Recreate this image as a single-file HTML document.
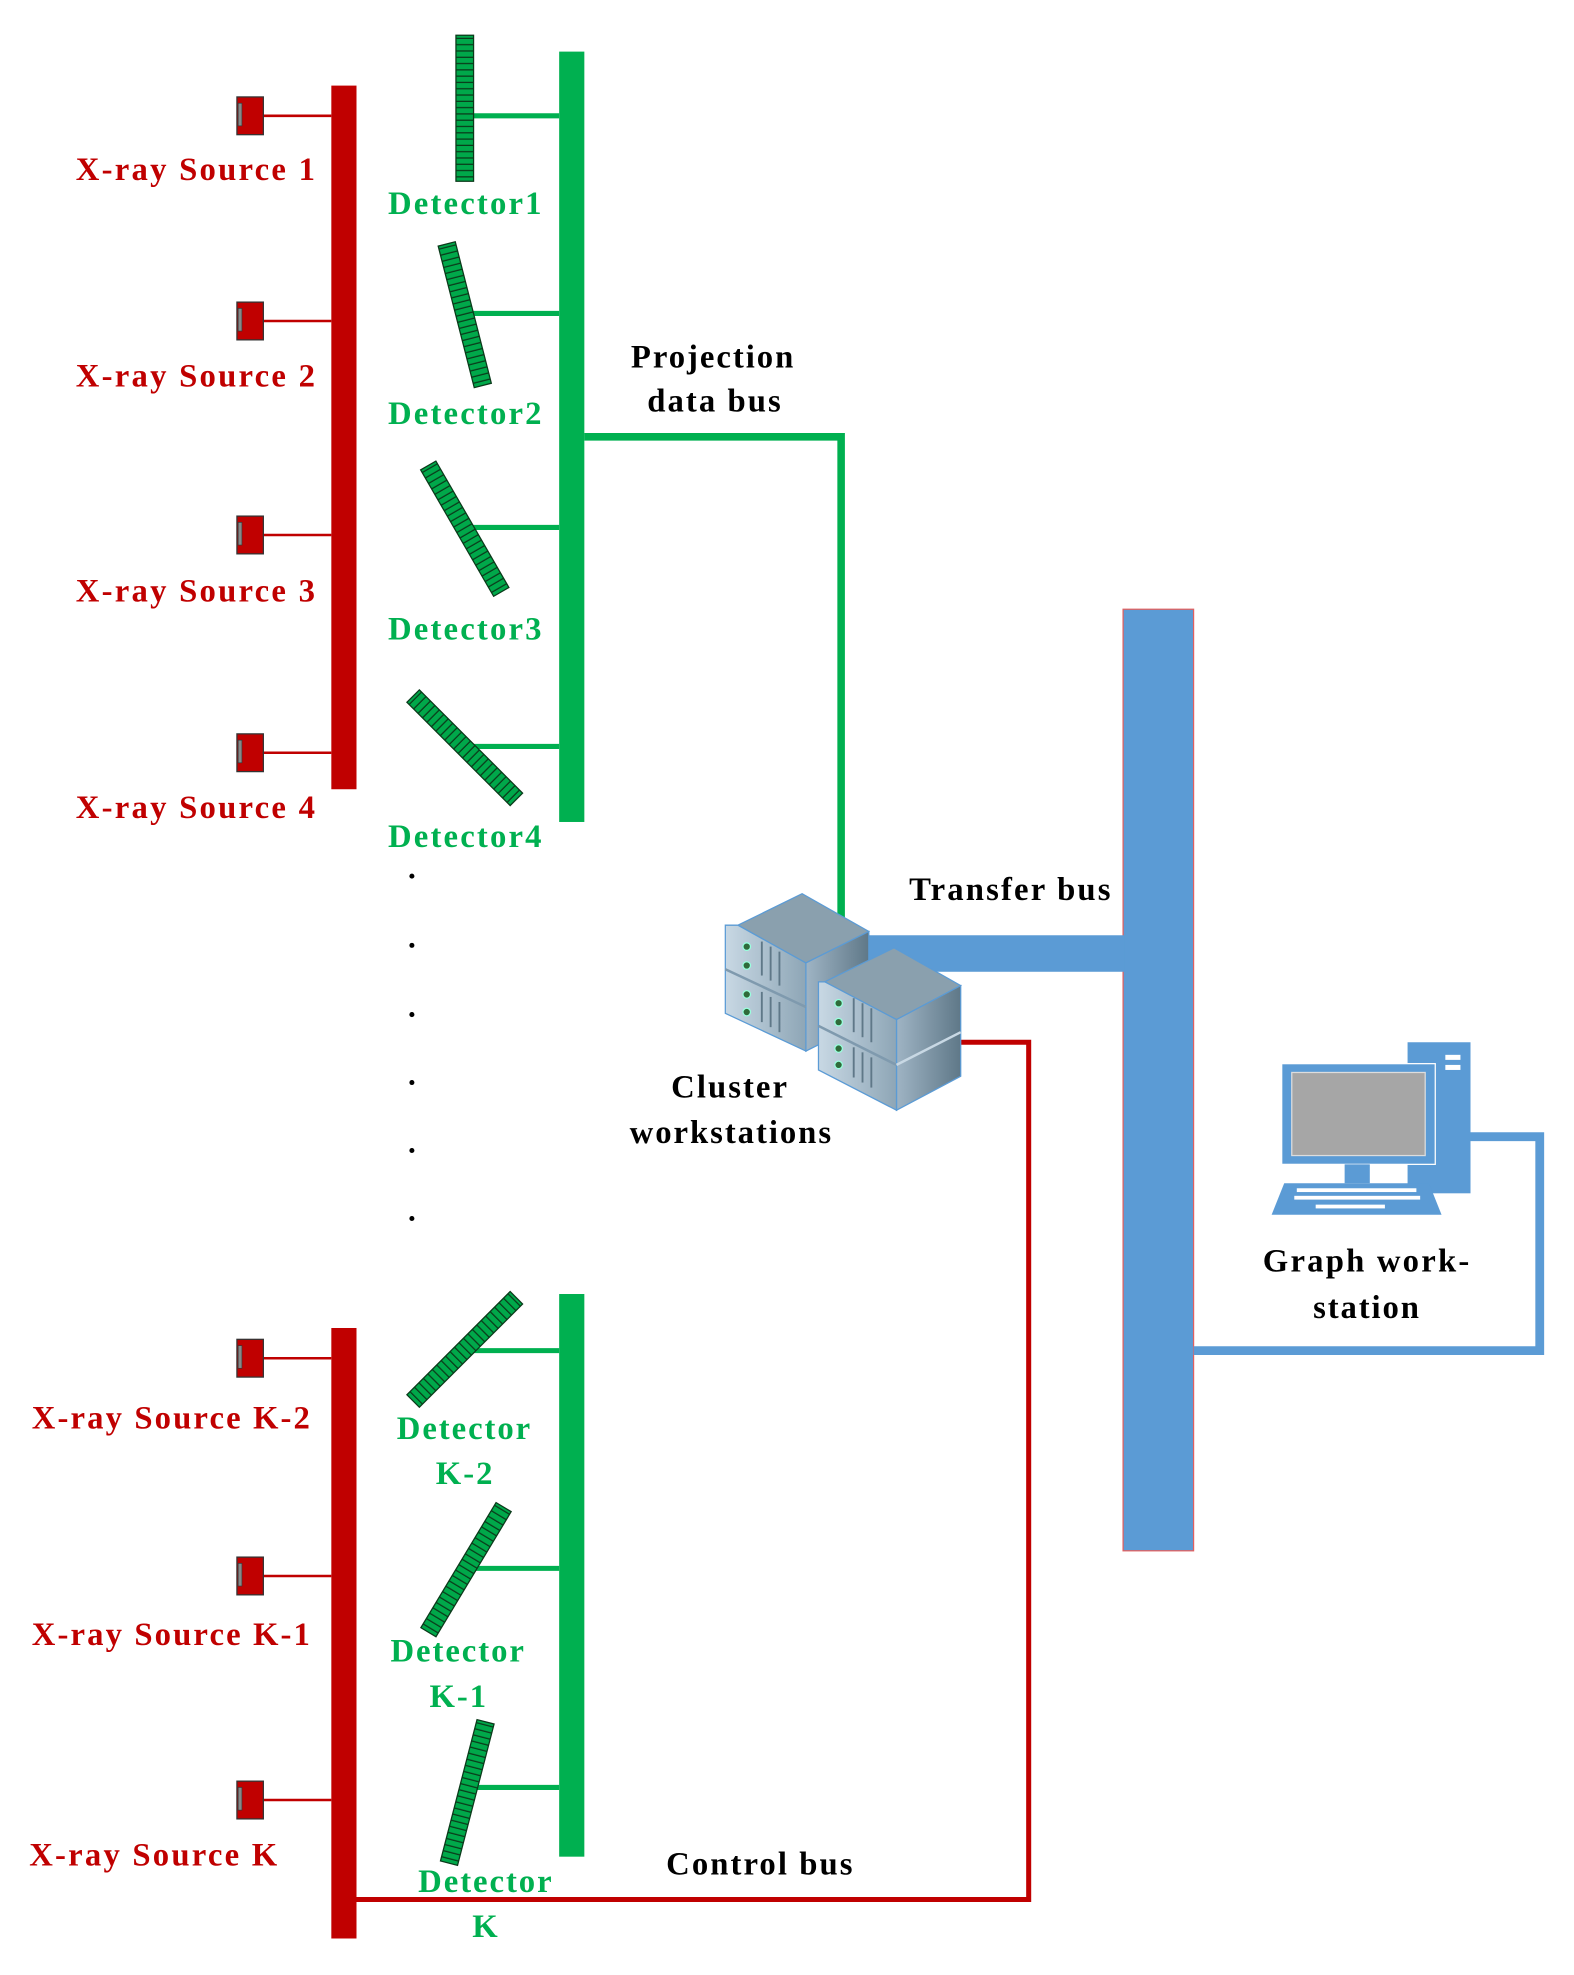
<!DOCTYPE html>
<html><head><meta charset="utf-8"><style>
html,body{margin:0;padding:0;background:#fff}
svg{display:block}
text{font-family:"Liberation Serif",serif;font-weight:bold;font-size:26px}
.r{fill:#c00000}.g{fill:#00b050}.k{fill:#000}
</style></head><body>
<svg width="1574" height="1975" viewBox="0 0 1250 1569" xmlns="http://www.w3.org/2000/svg">
<defs>
<pattern id="st" width="14" height="5" patternUnits="userSpaceOnUse" x="-7" y="0">
<rect width="14" height="5" fill="#00a84a"/><rect y="4" width="14" height="1" fill="#0a3a1a"/>
</pattern>
<linearGradient id="sv" x1="0" y1="0" x2="1" y2="0"><stop offset="0" stop-color="#9fb4c4"/><stop offset="1" stop-color="#5f7888"/></linearGradient>
<linearGradient id="fr" x1="0" y1="0" x2="1" y2="0"><stop offset="0" stop-color="#c8d8e4"/><stop offset="1" stop-color="#8ea6b6"/></linearGradient>
<g id="det"><rect x="-7" y="-58" width="14" height="116" fill="url(#st)" stroke="#0a3a1a" stroke-width="1"/></g>
<g id="src"><rect x="0" y="-15" width="21" height="30" fill="#c00000" stroke="#333" stroke-width="1"/><rect x="1" y="-10" width="3" height="18" fill="#888" stroke="#333" stroke-width="0.5"/></g>
</defs>

<rect x="263" y="68" width="20" height="559" fill="#c00000"/>
<rect x="263" y="1055" width="20" height="485" fill="#c00000"/>
<g stroke="#c00000" stroke-width="2">
<line x1="209" y1="92" x2="263" y2="92"/><line x1="209" y1="255" x2="263" y2="255"/>
<line x1="209" y1="425" x2="263" y2="425"/><line x1="209" y1="598" x2="263" y2="598"/>
<line x1="209" y1="1079" x2="263" y2="1079"/><line x1="209" y1="1252" x2="263" y2="1252"/>
<line x1="209" y1="1430" x2="263" y2="1430"/>
</g>
<use href="#src" x="188" y="92"/><use href="#src" x="188" y="255"/><use href="#src" x="188" y="425"/><use href="#src" x="188" y="598"/>
<use href="#src" x="188" y="1079"/><use href="#src" x="188" y="1252"/><use href="#src" x="188" y="1430"/>
<text class="r" x="60" y="143" textLength="190" lengthAdjust="spacing">X-ray Source 1</text>
<text class="r" x="60" y="307" textLength="190" lengthAdjust="spacing">X-ray Source 2</text>
<text class="r" x="60" y="478" textLength="190" lengthAdjust="spacing">X-ray Source 3</text>
<text class="r" x="60" y="650" textLength="190" lengthAdjust="spacing">X-ray Source 4</text>
<text class="r" x="25" y="1135" textLength="221" lengthAdjust="spacing">X-ray Source K-2</text>
<text class="r" x="25" y="1307" textLength="221" lengthAdjust="spacing">X-ray Source K-1</text>
<text class="r" x="23" y="1482" textLength="197" lengthAdjust="spacing">X-ray Source K</text>

<rect x="444" y="41" width="20" height="612" fill="#00b050"/>
<rect x="444" y="1028" width="20" height="447" fill="#00b050"/>
<g stroke="#00b050" stroke-width="4">
<line x1="376" y1="92" x2="444" y2="92"/><line x1="372" y1="249" x2="444" y2="249"/>
<line x1="372" y1="419" x2="444" y2="419"/><line x1="372" y1="593" x2="444" y2="593"/>
<line x1="372" y1="1073" x2="444" y2="1073"/><line x1="372" y1="1246" x2="444" y2="1246"/>
<line x1="372" y1="1420" x2="444" y2="1420"/>
</g>
<path d="M464 347 H668 V735" fill="none" stroke="#00b050" stroke-width="6"/>
<use href="#det" transform="translate(369,86)"/>
<use href="#det" transform="translate(369,250) rotate(-14.3)"/>
<use href="#det" transform="translate(369,420) rotate(-30)"/>
<use href="#det" transform="translate(369,594) rotate(-45)"/>
<use href="#det" transform="translate(369,1072) rotate(45)"/>
<use href="#det" transform="translate(370,1247) rotate(31)"/>
<use href="#det" transform="translate(371,1424) rotate(14.5)"/>
<text class="g" x="308" y="170" textLength="122" lengthAdjust="spacing">Detector1</text>
<text class="g" x="308" y="337" textLength="122" lengthAdjust="spacing">Detector2</text>
<text class="g" x="308" y="508" textLength="122" lengthAdjust="spacing">Detector3</text>
<text class="g" x="308" y="673" textLength="122" lengthAdjust="spacing">Detector4</text>
<text class="g" x="315" y="1143" textLength="106" lengthAdjust="spacing">Detector</text>
<text class="g" x="346" y="1179" textLength="45" lengthAdjust="spacing">K-2</text>
<text class="g" x="310" y="1320" textLength="106" lengthAdjust="spacing">Detector</text>
<text class="g" x="341" y="1356" textLength="45" lengthAdjust="spacing">K-1</text>
<text class="g" x="332" y="1503" textLength="106" lengthAdjust="spacing">Detector</text>
<text class="g" x="375" y="1539">K</text>
<text class="k" x="501" y="292" textLength="129" lengthAdjust="spacing">Projection</text>
<text class="k" x="514" y="327" textLength="106" lengthAdjust="spacing">data bus</text>
<text class="k" x="722" y="715" textLength="160" lengthAdjust="spacing">Transfer bus</text>
<text class="k" x="533" y="872" textLength="92" lengthAdjust="spacing">Cluster</text>
<text class="k" x="500" y="908" textLength="160" lengthAdjust="spacing">workstations</text>
<text class="k" x="529" y="1489" textLength="148" lengthAdjust="spacing">Control bus</text>
<text class="k" x="1003" y="1010" textLength="164" lengthAdjust="spacing">Graph work-</text>
<text class="k" x="1043" y="1047" textLength="84" lengthAdjust="spacing">station</text>
<g fill="#000"><circle cx="327" cy="696" r="2"/><circle cx="327" cy="751" r="2"/><circle cx="327" cy="806" r="2"/><circle cx="327" cy="860" r="2"/><circle cx="327" cy="914" r="2"/><circle cx="327" cy="968" r="2"/></g>

<path d="M283 1509 H817 V828 H762" fill="none" stroke="#c00000" stroke-width="4"/>
<rect x="892" y="484" width="56" height="748" fill="#5b9bd5" stroke="#e06060" stroke-width="1"/>
<rect x="688" y="743" width="205" height="29" fill="#5b9bd5"/>
<path d="M948 1073 H1223 V903 H1168" fill="none" stroke="#5b9bd5" stroke-width="7"/>

<g stroke="#5b9bd5" stroke-width="1">
<polygon points="586,735 637,710 690,740 640,765" fill="#8aa0ae"/>
<polygon points="640,765 690,740 690,810 640,835" fill="url(#sv)"/>
<polygon points="576,735 586,735 640,765 640,835 576,805" fill="url(#fr)"/>
<polygon points="655,780 710,753 763,783 712,810" fill="#8aa0ae"/>
<polygon points="712,810 763,783 763,855 712,882" fill="url(#sv)"/>
<polygon points="650,780 655,780 712,810 712,882 650,850" fill="url(#fr)"/>
</g>
<g fill="#2f6b3a" stroke="#9fd" stroke-width="1">
<circle cx="593" cy="752" r="3"/><circle cx="593" cy="767" r="3"/><circle cx="593" cy="790" r="3"/><circle cx="593" cy="804" r="3"/>
<circle cx="666" cy="797" r="3"/><circle cx="666" cy="812" r="3"/><circle cx="666" cy="833" r="3"/><circle cx="666" cy="846" r="3"/>
</g>
<g stroke="#5f7888" stroke-width="1.5">
<line x1="605" y1="748" x2="605" y2="775"/><line x1="612" y1="752" x2="612" y2="779"/><line x1="619" y1="756" x2="619" y2="783"/>
<line x1="605" y1="788" x2="605" y2="812"/><line x1="612" y1="792" x2="612" y2="816"/><line x1="619" y1="796" x2="619" y2="820"/>
<line x1="678" y1="793" x2="678" y2="820"/><line x1="685" y1="797" x2="685" y2="824"/><line x1="692" y1="801" x2="692" y2="828"/>
<line x1="678" y1="832" x2="678" y2="856"/><line x1="685" y1="836" x2="685" y2="860"/><line x1="692" y1="840" x2="692" y2="864"/>
</g>
<line x1="576" y1="770" x2="640" y2="800" stroke="#7f9aae" stroke-width="2"/>
<line x1="650" y1="815" x2="712" y2="846" stroke="#7f9aae" stroke-width="2"/>
<line x1="712" y1="846" x2="763" y2="820" stroke="#c8d8e4" stroke-width="2"/>

<rect x="1118" y="828" width="50" height="120" fill="#5b9bd5"/>
<rect x="1148" y="838" width="12" height="4" fill="#fff"/><rect x="1148" y="846" width="12" height="4" fill="#fff"/>
<rect x="1018" y="845" width="122" height="80" fill="#5b9bd5" stroke="#fff" stroke-width="1"/>
<rect x="1026" y="852" width="106" height="66" fill="#a6a6a6" stroke="#ddd" stroke-width="1"/>
<rect x="1068" y="925" width="20" height="15" fill="#5b9bd5"/>
<polygon points="1020,940 1135,940 1145,965 1010,965" fill="#5b9bd5"/>
<g fill="#fff"><rect x="1030" y="944" width="95" height="3"/><rect x="1028" y="950" width="100" height="3"/><rect x="1045" y="957" width="55" height="3"/></g>
</svg>
</body></html>
